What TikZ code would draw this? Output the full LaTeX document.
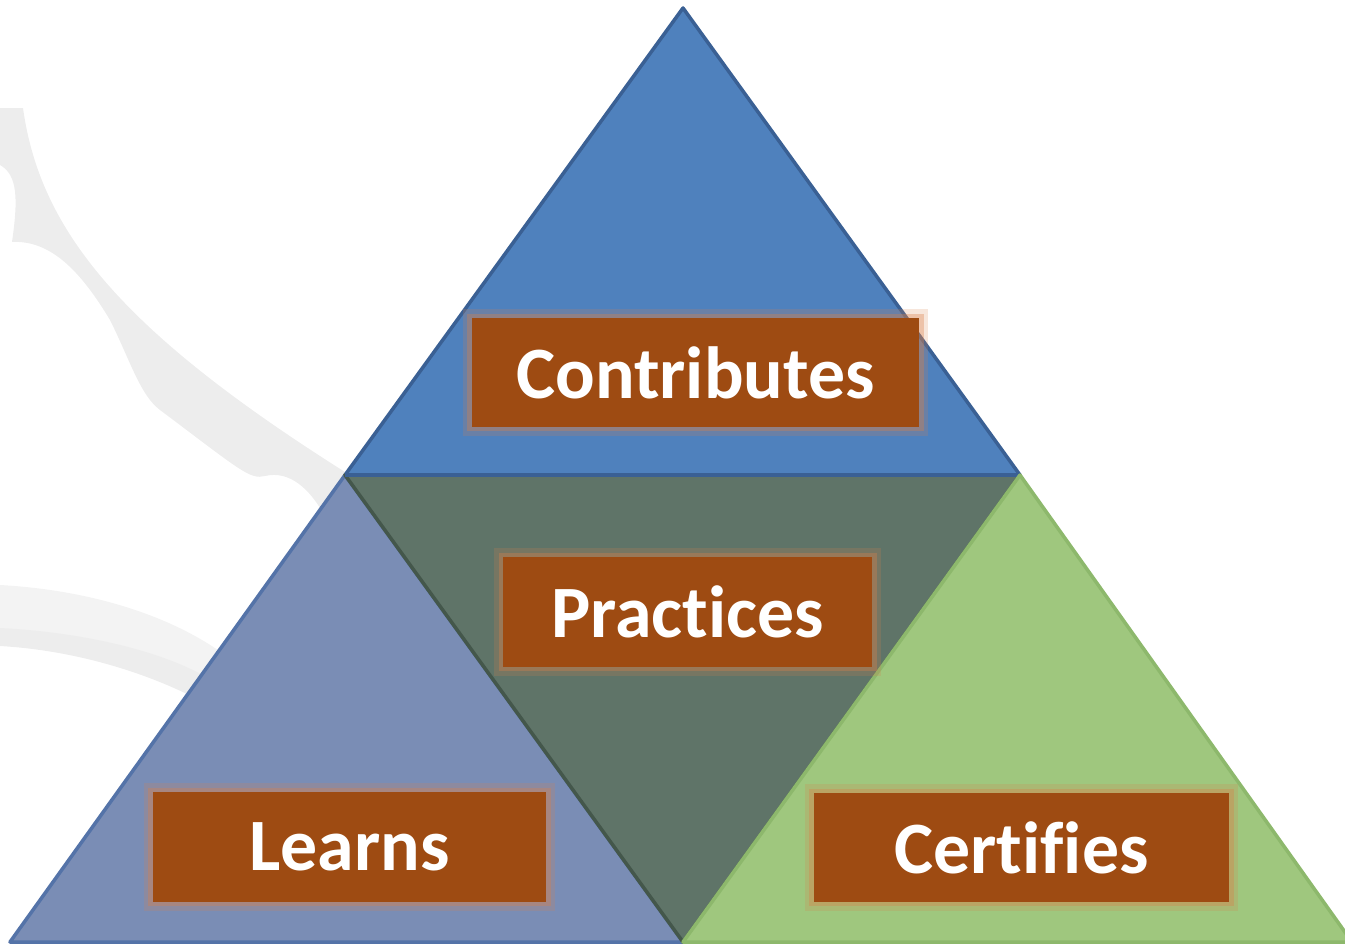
\documentclass[tikz,border=0pt]{standalone}
\usepackage{fontspec}
\setmainfont{Carlito}[Ligatures=CommonOff]
\usetikzlibrary{positioning}

\definecolor{topblue}{HTML}{4F81BD}
\definecolor{topedge}{HTML}{3A6094}
\definecolor{leftblue}{HTML}{7A8DB5}
\definecolor{leftedge}{HTML}{5473A8}
\definecolor{midgreen}{HTML}{5F7468}
\definecolor{midedge}{HTML}{44574B}
\definecolor{rightgreen}{HTML}{9FC77E}
\definecolor{rightedge}{HTML}{8DB86C}
\definecolor{boxbrown}{HTML}{9E4B12}
\definecolor{glowrust}{HTML}{D9804A}
\definecolor{swoosh}{HTML}{EDEDED}
\definecolor{swooshlight}{HTML}{F3F3F3}

\begin{document}
\begin{tikzpicture}[
      x=0.01cm, y=-0.01cm,
      lbl/.style={rectangle,fill=boxbrown,text=white,inner sep=0pt,
        font=\fontsize{21}{24}\selectfont\bfseries,
        preaction={draw=glowrust,draw opacity=0.2,line width=5pt},
        preaction={draw=glowrust,draw opacity=0.35,line width=2.5pt}},
      tri/.style={line width=1pt,line join=round}
    ]
    \useasboundingbox (0,0) rectangle (1345,945);

    % Background swooshes
    \fill[swoosh] (0,108) -- (23,108)
      .. controls (40,230) and (120,330) .. (345,472)
      -- (323,513) .. controls (310,490) and (290,470) .. (265,476)
      .. controls (250,480) and (240,470) .. (160,410)
      .. controls (140,395) and (130,360) .. (110,320)
      .. controls (80,270) and (50,240) .. (12,242)
      .. controls (18,200) and (18,175) .. (0,165) -- cycle;
    \fill[swooshlight] (0,585) .. controls (90,590) and (170,615) .. (225,655)
      -- (200,688) .. controls (150,660) and (80,645) .. (0,642) -- cycle;
    \fill[swoosh] (0,628) .. controls (80,632) and (160,650) .. (208,678)
      -- (195,698) .. controls (140,670) and (70,650) .. (0,646) -- cycle;

    % Triangle corners
    \coordinate (apex) at (683,8);
    \coordinate (ml) at (345,475);
    \coordinate (mr) at (1020,475);
    \coordinate (bl) at (10,942);
    \coordinate (bm) at (683,942);
    \coordinate (br) at (1352,942);

    % Triangles
    \filldraw[tri,fill=topblue,draw=topedge] (apex) -- (ml) -- (mr) -- cycle;
    \filldraw[tri,fill=leftblue,draw=leftedge] (ml) -- (bl) -- (bm) -- cycle;
    \filldraw[tri,fill=midgreen,draw=midedge] (ml) -- (mr) -- (bm) -- cycle;
    \draw[line width=1.2pt,topedge] (ml) -- (mr);
    \filldraw[tri,fill=rightgreen,draw=rightedge] (mr) -- (bm) -- (br) -- cycle;

    % Labels
    \node[lbl,minimum width=4.47cm,minimum height=1.09cm] (contrib) at (695.5,372.5) {Contributes};
    \node[lbl,minimum width=3.69cm,minimum height=1.10cm] (practice) at (687.5,612) {Practices};
    \node[lbl,minimum width=3.93cm,minimum height=1.10cm] (learn) at (349.5,847) {Learns};
    \node[lbl,minimum width=4.15cm,minimum height=1.09cm] (certify) at (1021.5,847.5) {Certifies};
  \end{tikzpicture}
\end{document}
